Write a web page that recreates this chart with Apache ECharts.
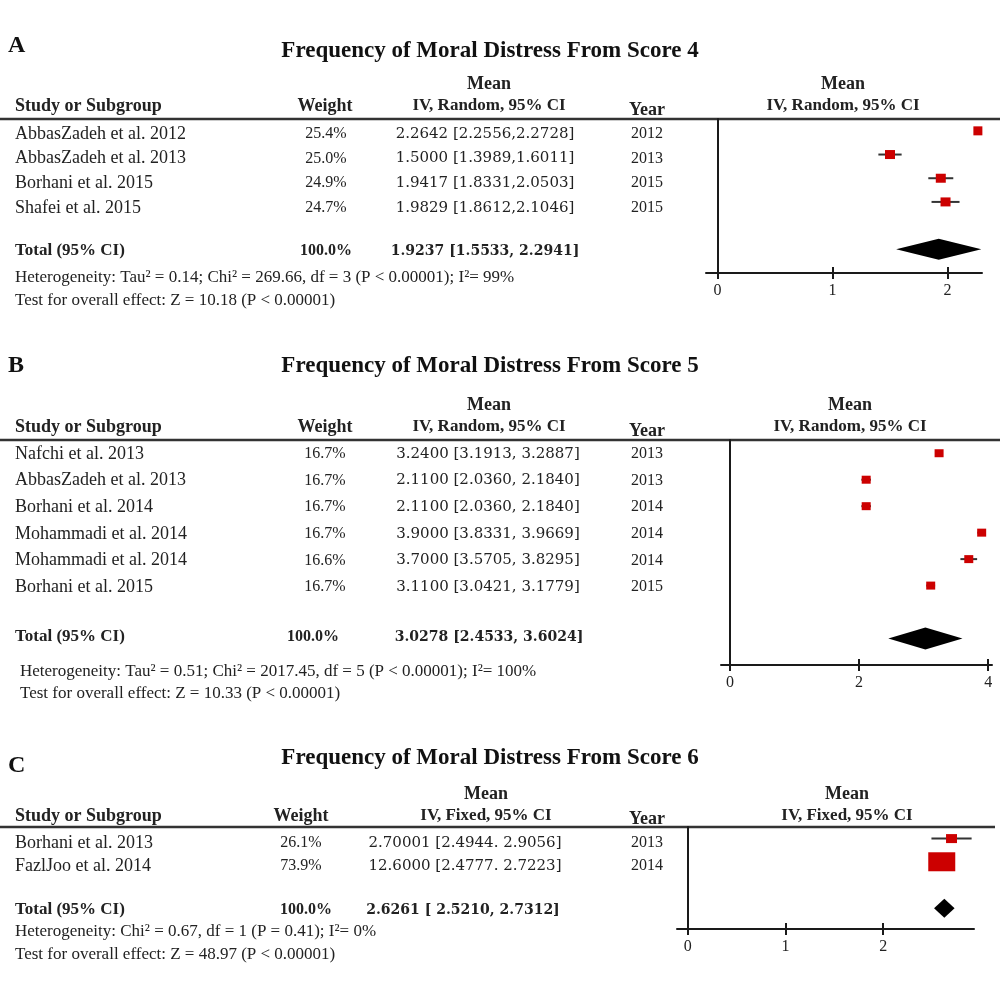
<!DOCTYPE html>
<html><head><meta charset="utf-8">
<script src="https://cdn.jsdelivr.net/npm/echarts@6/dist/echarts.min.js"></script>
<style>html,body{margin:0;padding:0;background:#fff}#c{width:1000px;height:985px}</style>
</head><body><div id="c"></div>
<script>
// ---------- Panel A data ----------
const titleA = 'Frequency of Moral Distress From Score 4';
const studiesA = ['AbbasZadeh et al. 2012','AbbasZadeh et al. 2013','Borhani et al. 2015','Shafei et al. 2015'];
const weightsA = ['25.4%','25.0%','24.9%','24.7%'];
const meansA = [2.2642, 1.5000, 1.9417, 1.9829];
const lowsA = [2.2556, 1.3989, 1.8331, 1.8612];
const highsA = [2.2728, 1.6011, 2.0503, 2.1046];
const ciTextA = ['2.2642 [2.2556,2.2728]','1.5000 [1.3989,1.6011]','1.9417 [1.8331,2.0503]','1.9829 [1.8612,2.1046]'];
const yearsA = ['2012','2013','2015','2015'];
const totalA = [1.5533, 1.9237, 2.2941];
const totalWeightA = '100.0%';
const totalTextA = '1.9237 [1.5533, 2.2941]';
const hetA = 'Heterogeneity: Tau² = 0.14; Chi² = 269.66, df = 3 (P < 0.00001); I²= 99%';
const testA = 'Test for overall effect: Z = 10.18 (P < 0.00001)';
const ticksA = [0, 1, 2];

// ---------- Panel B data ----------
const titleB = 'Frequency of Moral Distress From Score 5';
const studiesB = ['Nafchi et al. 2013','AbbasZadeh et al. 2013','Borhani et al. 2014','Mohammadi et al. 2014','Mohammadi et al. 2014','Borhani et al. 2015'];
const weightsB = ['16.7%','16.7%','16.7%','16.7%','16.6%','16.7%'];
const meansB = [3.2400, 2.1100, 2.1100, 3.9000, 3.7000, 3.1100];
const lowsB = [3.1913, 2.0360, 2.0360, 3.8331, 3.5705, 3.0421];
const highsB = [3.2887, 2.1840, 2.1840, 3.9669, 3.8295, 3.1779];
const ciTextB = ['3.2400 [3.1913, 3.2887]','2.1100 [2.0360, 2.1840]','2.1100 [2.0360, 2.1840]','3.9000 [3.8331, 3.9669]','3.7000 [3.5705, 3.8295]','3.1100 [3.0421, 3.1779]'];
const yearsB = ['2013','2013','2014','2014','2014','2015'];
const totalB = [2.4533, 3.0278, 3.6024];
const totalWeightB = '100.0%';
const totalTextB = '3.0278 [2.4533, 3.6024]';
const hetB = 'Heterogeneity: Tau² = 0.51; Chi² = 2017.45, df = 5 (P < 0.00001); I²= 100%';
const testB = 'Test for overall effect: Z = 10.33 (P < 0.00001)';
const ticksB = [0, 2, 4];

// ---------- Panel C data ----------
const titleC = 'Frequency of Moral Distress From Score 6';
const studiesC = ['Borhani et al. 2013','FazlJoo et al. 2014'];
const weightsC = ['26.1%','73.9%'];
const meansC = [2.70001, 2.6000];
const lowsC = [2.4944, 2.4777];
const highsC = [2.9056, 2.7223];
const ciTextC = ['2.70001 [2.4944. 2.9056]','12.6000 [2.4777. 2.7223]'];
const yearsC = ['2013','2014'];
const totalC = [2.5210, 2.6261, 2.7312];
const totalWeightC = '100.0%';
const totalTextC = '2.6261 [ 2.5210, 2.7312]';
const hetC = 'Heterogeneity: Chi² = 0.67, df = 1 (P = 0.41); I²= 0%';
const testC = 'Test for overall effect: Z = 48.97 (P < 0.00001)';
const ticksC = [0, 1, 2];

// ---------- layout / style ----------
const FONT = '"Liberation Serif", serif';
const NUMFONT = '"DejaVu Serif", serif';
const RED = '#cc0000';
const DARK = '#1a1a1a';

const panels = [
  { letter:'A', title:titleA, method:'IV, Random, 95% CI', studies:studiesA, weights:weightsA, means:meansA, lows:lowsA, highs:highsA,
    ciText:ciTextA, years:yearsA, total:totalA, totalWeight:totalWeightA, totalText:totalTextA, het:hetA, test:testA, ticks:ticksA,
    L:{ letterY:46, titleY:51, meanY:84, headY:106, yearHeadY:110, weightHX:325, methodX:489, rightX:843, lineY:119, lineX2:1000,
        rowY0:134, rowStep:24.6, weightX:326, ciX:485, yearX:647, totalY:251, totalWeightX:326, totalCiX:485, hetX:15, hetY:278, testY:301,
        grid:{left:706, width:276, top:119, height:154}, xMin:-0.1, xMax:2.3, yMin:-0.5, yMax:6, totalRow:5, diamondH:21,
        markerSizes:[[9,9],[10,9],[10,9],[10,9]] } },
  { letter:'B', title:titleB, method:'IV, Random, 95% CI', studies:studiesB, weights:weightsB, means:meansB, lows:lowsB, highs:highsB,
    ciText:ciTextB, years:yearsB, total:totalB, totalWeight:totalWeightB, totalText:totalTextB, het:hetB, test:testB, ticks:ticksB,
    L:{ letterY:366, titleY:366, meanY:405, headY:427, yearHeadY:431, weightHX:325, methodX:489, rightX:850, lineY:440, lineX2:1000,
        rowY0:454, rowStep:26.6, weightX:325, ciX:488, yearX:647, totalY:637, totalWeightX:313, totalCiX:489, hetX:20, hetY:672, testY:694,
        grid:{left:721, width:271, top:440, height:225}, xMin:-0.14, xMax:4.06, yMin:-0.5, yMax:8, totalRow:7, diamondH:22,
        markerSizes:[[9,8],[9,8],[9,8],[9,8],[9,8],[9,8]] } },
  { letter:'C', title:titleC, method:'IV, Fixed, 95% CI', studies:studiesC, weights:weightsC, means:meansC, lows:lowsC, highs:highsC,
    ciText:ciTextC, years:yearsC, total:totalC, totalWeight:totalWeightC, totalText:totalTextC, het:hetC, test:testC, ticks:ticksC,
    L:{ letterY:766, titleY:758, meanY:794, headY:816, yearHeadY:819, weightHX:301, methodX:486, rightX:847, lineY:827, lineX2:995,
        rowY0:843, rowStep:23, weightX:301, ciX:465, yearX:647, totalY:910, totalWeightX:306, totalCiX:463, hetX:15, hetY:932, testY:955,
        grid:{left:677, width:297, top:827, height:102}, xMin:-0.11, xMax:2.93, yMin:-0.5, yMax:3.9, totalRow:3, diamondH:19,
        markerSizes:[[11,9],[27,19]] } }
];

function txt(text, x, y, opt) {
  opt = opt || {};
  return { type:'text', silent:true, style:{ text, x, y, fill: opt.color || '#222',
    font: (opt.bold ? 'bold ' : '') + (opt.size || 16) + 'px ' + (opt.font || FONT),
    textAlign: opt.align || 'left', textVerticalAlign:'middle' } };
}

const grids = [], xAxes = [], yAxes = [], series = [], graphics = [];
panels.forEach((p, k) => {
  const L = p.L;
  // texts
  graphics.push(txt(p.letter, 8, L.letterY, {bold:true, size:24, color:'#111'}));
  graphics.push(txt(p.title, 490, L.titleY, {bold:true, size:23, align:'center', color:'#111'}));
  graphics.push(txt('Mean', L.methodX, L.meanY, {bold:true, size:18, align:'center'}));
  graphics.push(txt('Study or Subgroup', 15, L.headY, {bold:true, size:18}));
  graphics.push(txt('Weight', L.weightHX, L.headY, {bold:true, size:18, align:'center'}));
  graphics.push(txt(p.method, L.methodX, L.headY, {bold:true, size:17, align:'center'}));
  graphics.push(txt('Year', L.yearX, L.yearHeadY, {bold:true, size:18, align:'center'}));
  graphics.push(txt('Mean', L.rightX, L.meanY, {bold:true, size:18, align:'center'}));
  graphics.push(txt(p.method, L.rightX, L.headY, {bold:true, size:17, align:'center'}));
  graphics.push({ type:'line', silent:true, shape:{x1:0, y1:L.lineY, x2:L.lineX2, y2:L.lineY}, style:{stroke:'#333', lineWidth:2.5} });
  p.studies.forEach((s, i) => {
    const y = L.rowY0 + i * L.rowStep;
    graphics.push(txt(s, 15, y, {size:18}));
    graphics.push(txt(p.weights[i], L.weightX, y, {size:16, align:'center'}));
    graphics.push(txt(p.ciText[i], L.ciX, y, {size:15, align:'center', font:NUMFONT}));
    graphics.push(txt(p.years[i], L.yearX, y, {size:16, align:'center'}));
  });
  graphics.push(txt('Total (95% CI)', 15, L.totalY, {bold:true, size:17}));
  graphics.push(txt(p.totalWeight, L.totalWeightX, L.totalY, {bold:true, size:16, align:'center'}));
  graphics.push(txt(p.totalText, L.totalCiX, L.totalY, {bold:true, size:14, align:'center', font:NUMFONT}));
  graphics.push(txt(p.het, L.hetX, L.hetY, {size:17}));
  graphics.push(txt(p.test, L.hetX, L.testY, {size:17}));

  // chart
  grids.push(Object.assign({}, L.grid));
  xAxes.push({ type:'value', gridIndex:k, min:L.xMin, max:L.xMax, position:'bottom',
    axisLine:{show:true, onZero:false, lineStyle:{color:DARK, width:2}},
    axisTick:{show:true, customValues:p.ticks, length:6, lineStyle:{color:DARK, width:2}},
    axisLabel:{show:true, customValues:p.ticks, color:'#222', fontFamily:FONT, fontSize:16, margin:10},
    splitLine:{show:false} });
  xAxes.push({ type:'value', gridIndex:k, min:L.xMin, max:L.xMax, position:'bottom', offset:0,
    axisLine:{show:false, onZero:false},
    axisTick:{show:true, inside:true, customValues:p.ticks, length:6, lineStyle:{color:DARK, width:2}},
    axisLabel:{show:false}, splitLine:{show:false} });
  yAxes.push({ type:'value', gridIndex:k, min:L.yMin, max:L.yMax, inverse:true,
    axisLine:{show:true, onZero:true, onZeroAxisIndex:2*k, lineStyle:{color:DARK, width:2}},
    axisTick:{show:false}, axisLabel:{show:false}, splitLine:{show:false} });

  // whiskers
  series.push({ type:'custom', xAxisIndex:2*k, yAxisIndex:k, z:2, silent:true,
    data: p.means.map((m, i) => [p.lows[i], p.highs[i], i]),
    encode:{x:[0,1], y:2},
    renderItem:(params, api) => {
      const a = api.coord([api.value(0), api.value(2)]);
      const b = api.coord([api.value(1), api.value(2)]);
      return { type:'line', shape:{x1:a[0], y1:a[1], x2:b[0], y2:b[1]}, style:{stroke:'#333', lineWidth:2} };
    } });
  // squares
  series.push({ type:'scatter', xAxisIndex:2*k, yAxisIndex:k, z:3, silent:true, symbol:'rect',
    symbolSize:(val, params) => L.markerSizes[params.dataIndex],
    itemStyle:{color:RED, opacity:1},
    data: p.means.map((m, i) => [m, i]) });
  // diamond
  series.push({ type:'custom', xAxisIndex:2*k, yAxisIndex:k, z:3, silent:true,
    data: [[p.total[0], p.total[1], p.total[2], L.totalRow]],
    encode:{x:[0,1,2], y:3},
    renderItem:(params, api) => {
      const r = api.value(3);
      const lo = api.coord([api.value(0), r]);
      const mid = api.coord([api.value(1), r]);
      const hi = api.coord([api.value(2), r]);
      const h = L.diamondH / 2;
      return { type:'polygon', shape:{points:[[lo[0], lo[1]], [mid[0], mid[1]-h], [hi[0], hi[1]], [mid[0], mid[1]+h]]},
        style:{fill:'#000'} };
    } });
});

const chart = echarts.init(document.getElementById('c'), null, {renderer:'canvas'});
chart.setOption({
  backgroundColor:'#fff',
  animation:false,
  grid:grids, xAxis:xAxes, yAxis:yAxes, series:series,
  graphic:{elements:graphics}
});
</script></body></html>
